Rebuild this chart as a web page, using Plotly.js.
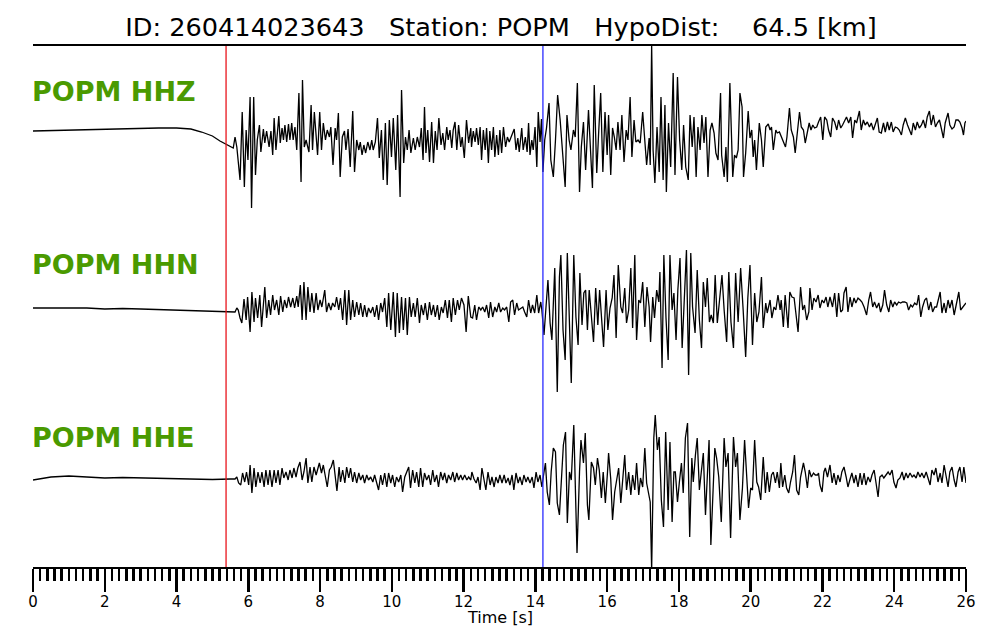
<!DOCTYPE html>
<html>
<head>
<meta charset="utf-8">
<script src="https://cdn.plot.ly/plotly-3.0.1.min.js"></script>
<style>
  html, body { margin: 0; padding: 0; background: #fff; }
  #chart { width: 1000px; height: 640px; }
</style>
</head>
<body>
<div id="chart"></div>
<script>
// ---------------- data ----------------
const stationId = "POPM";
const eventId = "260414023643";
const hypoDistKm = "64.5";
const channelNames = ["POPM HHZ", "POPM HHN", "POPM HHE"];
const pPickTime = 5.38;   // red pick [s]
const sPickTime = 14.21;  // blue pick [s]
const timeTickValues = [0, 2, 4, 6, 8, 10, 12, 14, 16, 18, 20, 22, 24, 26];
const timeTickLabels = ["0", "2", "4", "6", "8", "10", "12", "14", "16", "18", "20", "22", "24", "26"];

// HHZ trace: time [s] and amplitude (relative counts)
const hhzTime = [
  0, 0.5, 1.0, 1.5, 2.0, 2.5, 3.0, 3.5, 4.0, 4.4, 4.7, 5.0, 5.21, 5.4,
  5.58, 5.63, 5.68, 5.77, 5.83, 5.89, 5.94, 5.99, 6.05, 6.09, 6.15, 6.20, 6.25, 6.31, 6.35, 6.42, 6.46, 6.51, 6.58, 6.63, 6.68, 6.72, 6.77, 6.85, 6.89, 6.94, 6.98, 7.02, 7.07, 7.12, 7.16, 7.21, 7.25, 7.30, 7.35, 7.41, 7.47, 7.51, 7.56, 7.61, 7.69, 7.75, 7.79, 7.84, 7.93, 7.99,
  8.04, 8.09, 8.15, 8.20, 8.26, 8.30, 8.36, 8.42, 8.46, 8.51, 8.56, 8.62, 8.68, 8.72, 8.78, 8.84, 8.91, 8.96, 9.02, 9.08, 9.12, 9.17, 9.22, 9.27, 9.33, 9.39, 9.44, 9.48, 9.54, 9.60, 9.65, 9.71, 9.76, 9.82, 9.87, 9.93, 9.99,
  10.04, 10.11, 10.16, 10.23, 10.27, 10.33, 10.38, 10.43, 10.48, 10.53, 10.60, 10.65, 10.71, 10.77, 10.82, 10.87, 10.91, 10.95, 11.00, 11.05, 11.11, 11.16, 11.21, 11.26, 11.31, 11.37, 11.42, 11.47, 11.53, 11.57, 11.62, 11.67, 11.71, 11.76, 11.81, 11.86, 11.92, 11.96, 12.02, 12.08, 12.14, 12.20,
  12.22, 12.27, 12.32, 12.36, 12.41, 12.46, 12.50, 12.55, 12.60, 12.64, 12.69, 12.73, 12.78, 12.83, 12.87, 12.92, 12.97, 13.01, 13.06, 13.11, 13.17, 13.22, 13.27, 13.32, 13.41, 13.46, 13.51, 13.55, 13.62, 13.66, 13.72, 13.77, 13.81, 13.85, 13.90, 13.94, 13.99,
  14.04, 14.08, 14.13, 14.17, 14.21, 14.26, 14.31, 14.38, 14.43, 14.50, 14.56, 14.62, 14.69, 14.74, 14.83, 14.88, 14.94, 14.99, 15.06, 15.11, 15.17, 15.23, 15.28, 15.34, 15.40, 15.48, 15.52, 15.59, 15.64, 15.71, 15.76, 15.82, 15.88, 15.94,
  16.00, 16.04, 16.10, 16.15, 16.20, 16.25, 16.30, 16.36, 16.41, 16.47, 16.53, 16.58, 16.64, 16.69, 16.75, 16.80, 16.86, 16.92, 16.99, 17.05, 17.10, 17.17, 17.20, 17.24, 17.28, 17.33, 17.39, 17.45, 17.50, 17.56, 17.61, 17.65, 17.71, 17.77, 17.84, 17.89, 17.96,
  18.02, 18.08, 18.13, 18.19, 18.26, 18.31, 18.37, 18.42, 18.48, 18.53, 18.59, 18.64, 18.70, 18.75, 18.81, 18.87, 18.92, 18.98, 19.03, 19.09, 19.16,
  19.19, 19.26, 19.31, 19.35, 19.42, 19.50, 19.55, 19.60, 19.65, 19.70, 19.76, 19.80, 19.86, 19.93, 19.98, 20.03, 20.07, 20.11, 20.16, 20.24, 20.30, 20.35, 20.42, 20.49, 20.54, 20.58, 20.63, 20.70, 20.74, 20.80, 20.85, 20.91, 20.97,
  21.01, 21.08, 21.13, 21.19, 21.24, 21.30, 21.36, 21.41, 21.47, 21.52, 21.58, 21.63, 21.68, 21.73, 21.78, 21.84, 21.89, 21.95, 22.01, 22.06, 22.12, 22.17, 22.23, 22.28, 22.34, 22.40, 22.45, 22.51, 22.56, 22.62, 22.67, 22.73, 22.79, 22.84, 22.90, 22.95,
  23.03, 23.08, 23.14, 23.19, 23.25, 23.31, 23.36, 23.42, 23.47, 23.53, 23.58, 23.64, 23.70, 23.75, 23.81, 23.86, 23.92, 23.97, 24.03, 24.09, 24.14, 24.20, 24.25, 24.31, 24.37, 24.42, 24.48, 24.53, 24.59, 24.64, 24.70, 24.76, 24.81, 24.87, 24.92, 24.98,
  25.03, 25.09, 25.15, 25.20, 25.26, 25.31, 25.37, 25.42, 25.50, 25.55, 25.61, 25.67, 25.72, 25.78, 25.83, 25.89, 25.93, 25.97, 26.00
];
const hhzAmp = [
  0, 0.5, 1, 1.5, 2, 2.5, 3, 3, 3, 2, -1, -5, -10, -14,
  -17, -6, -16, -49, 19, -56, 1, -29, 34, -77, 34, -44, -9, 6, -21, 2, -12, 0, -16, 0, -24, 13, -19, 15, -12, 3, -9, 6, -11, 7, -9, 8, -9, 4, -19, 38, -51, 51, -16, -9, -21, 26, -19, 19, -24, 19,
  -19, 8, -9, 1, -6, 4, -34, 3, -9, 18, -46, -6, 0, -19, 2, -36, 20, -41, -9, -19, -11, -24, -14, -22, -11, -19, -9, -19, -11, 13, -27, 1, -49, 8, -54, 11, -26,
  13, -39, 16, -66, 41, -32, -6, -19, 1, -22, -7, -19, -6, -16, 3, -29, 24, -22, 1, -31, 9, -32, 0, -19, 13, -14, -2, -19, 4, -9, 1, -17, 1, 9, -19, 6, -16, -6, -27, 11, -12, 3,
  -16, 0, -11, 3, -14, 4, -29, 1, -19, 3, -32, 0, -19, 4, -26, -4, -24, 1, -22, 4, -16, -6, -11, -7, 2, -19, -7, -21, 3, -19, -6, -21, 8, -24, -9, -19, 4,
  -36, 19, -11, 12, -41, -9, 3, 28, -29, -46, -9, 36, 11, -12, -56, 16, -9, -19, 1, -6, 48, -61, -16, 9, -39, 21, -6, -57, 46, -42, -4, 38, -41, 19,
  -24, 16, -44, 3, -6, -19, 9, -19, 16, -31, 1, -9, 34, -26, 11, -11, -9, -12, 19, -12, -34, -7, -34, 86, -19, -52, 4, -41, 34, -49, 26, -61, 8, -36, 58, -44, 54,
  -9, -39, 6, -36, -49, 16, -16, 14, -46, 4, -19, 16, -12, 14, -46, 1, 8, -2, -22, -29, 38,
  -24, -46, -16, -51, 48, -46, -24, -27, -19, 38, 24, -46, -22, 20, -7, 1, -26, -9, -39, 8, -9, -36, 4, 7, 1, 4, -19, 1, -2, -1, -6, -12, -16,
  -6, 23, 1, -6, -22, 1, 19, 4, 1, -12, -1, 8, 1, 6, 3, 4, 9, 14, -9, 14, 11, 1, -6, 13, 9, 1, 11, 3, 6, 11, 14, 8, 14, -7, 11, 8,
  20, 1, 11, 6, 9, 4, 8, 1, 6, 13, -1, -2, 8, -1, 9, 1, 9, -1, 4, 3, 1, -4, 6, 13, 6, 1, -4, 8, 1, 9, 3, 6, 11, 3, 14, 20,
  6, 16, 4, 8, 11, 3, -7, 8, 18, 6, 2, 4, 11, 11, 9, 3, -4, 8, 10
];

// HHN trace
const hhnTime = [
  0, 0.5, 1.0, 1.5, 2.0, 2.5, 3.0, 3.5, 4.0, 4.5, 5.0, 5.4,
  5.63, 5.68, 5.72, 5.77, 5.82, 5.88, 5.94, 5.98, 6.05, 6.10, 6.16, 6.20, 6.26, 6.32, 6.37, 6.46, 6.51, 6.57, 6.62, 6.68, 6.73, 6.79, 6.85, 6.90, 6.96, 7.01, 7.07, 7.12, 7.18, 7.24, 7.29, 7.35, 7.39, 7.45, 7.50, 7.55, 7.61, 7.66, 7.72, 7.77, 7.83, 7.89, 7.94,
  8.00, 8.05, 8.13, 8.18, 8.24, 8.30, 8.35, 8.41, 8.46, 8.52, 8.57, 8.63, 8.69, 8.74, 8.80, 8.85, 8.91, 8.96, 9.02, 9.08, 9.13, 9.19, 9.24, 9.30, 9.35, 9.41, 9.47, 9.52, 9.58, 9.63, 9.69, 9.74, 9.80, 9.86, 9.91, 9.97,
  10.04, 10.10, 10.15, 10.21, 10.27, 10.32, 10.38, 10.43, 10.49, 10.54, 10.60, 10.65, 10.71, 10.77, 10.82, 10.88, 10.93, 10.99, 11.05, 11.10, 11.16, 11.21, 11.27, 11.32, 11.38, 11.43, 11.49, 11.55, 11.60, 11.66, 11.71, 11.77, 11.83, 11.88, 11.94, 12.01, 12.07, 12.13, 12.20,
  12.25, 12.31, 12.36, 12.42, 12.48, 12.53, 12.59, 12.64, 12.70, 12.75, 12.81, 12.87, 12.92, 12.98, 13.03, 13.09, 13.14, 13.20, 13.26, 13.31, 13.37, 13.42, 13.48, 13.53, 13.59, 13.65, 13.70, 13.76, 13.81, 13.87, 13.92, 13.98,
  14.04, 14.09, 14.15, 14.18, 14.24, 14.30, 14.35, 14.41, 14.46, 14.54, 14.61, 14.67, 14.71, 14.77, 14.83, 14.89, 14.95, 15.00, 15.07, 15.13, 15.19, 15.24, 15.30, 15.35, 15.40, 15.45, 15.50, 15.56, 15.62, 15.68, 15.74, 15.79, 15.85, 15.90, 15.97,
  16.02, 16.08, 16.14, 16.19, 16.25, 16.31, 16.38, 16.43, 16.49, 16.54, 16.60, 16.66, 16.71, 16.77, 16.82, 16.88, 16.93, 16.99, 17.05, 17.11, 17.17, 17.21, 17.27, 17.32, 17.38, 17.44, 17.47, 17.53, 17.58, 17.64, 17.70, 17.75, 17.81, 17.86, 17.92, 17.97,
  18.03, 18.09, 18.14, 18.21, 18.27, 18.33, 18.38, 18.45, 18.51, 18.57, 18.63, 18.68, 18.74, 18.79, 18.85, 18.90, 18.96, 19.01, 19.07,
  19.14, 19.20, 19.26, 19.33, 19.39, 19.45, 19.52, 19.58, 19.65, 19.72, 19.79, 19.86, 19.92, 19.98, 20.05, 20.11, 20.17, 20.23, 20.30, 20.35, 20.42, 20.46, 20.54, 20.59, 20.65, 20.70, 20.76, 20.82, 20.85, 20.91, 20.96,
  21.04, 21.09, 21.15, 21.21, 21.26, 21.32, 21.39, 21.45, 21.50, 21.56, 21.62, 21.65, 21.71, 21.76, 21.82, 21.88, 21.93, 21.99, 22.04, 22.10, 22.15, 22.21, 22.28, 22.34, 22.40, 22.45, 22.51, 22.56, 22.60, 22.66, 22.71, 22.77, 22.82, 22.88, 22.93, 22.99,
  23.05, 23.10, 23.16, 23.23, 23.29, 23.34, 23.40, 23.45, 23.51, 23.57, 23.62, 23.68, 23.73, 23.79, 23.85, 23.90, 23.96, 24.01, 24.07, 24.12, 24.18, 24.23, 24.29, 24.35, 24.40, 24.46, 24.51, 24.57, 24.63, 24.68, 24.74, 24.79, 24.85, 24.90, 24.96,
  25.02, 25.07, 25.13, 25.18, 25.22, 25.28, 25.33, 25.39, 25.44, 25.50, 25.55, 25.61, 25.67, 25.74, 25.80, 25.85, 25.91, 25.96, 26.00
];
const hhnAmp = [
  1, 1, 1.5, 1, 0, 0.5, 0, -0.5, -1, -1.5, -2.5, -3,
  -3, 1, -1, -9, -14, 10, -11, 12, -23, 17, -13, 11, -9, 14, -18, 22, -9, 9, -6, 14, -1, 9, -6, 13, -3, 9, 1, 12, 2, 11, 1, 13, 2, 24, -11, 27, -11, 22, -3, 16, -4, 16, -1,
  9, 2, 19, -3, 6, -1, 6, 2, 12, -1, 11, -11, 19, -16, 19, -11, 9, -8, 7, -6, 6, -8, 4, -8, 1, -4, 2, -8, 4, -11, 6, -3, 11, -18, 16, -21,
  17, -28, 16, -24, 12, -21, 11, -26, 12, -8, 6, -8, 11, -14, 4, -6, 6, -11, 7, -6, 4, -8, 4, -11, 2, -4, 9, -9, 9, -13, 11, -6, 9, -1, 11, 4, -23, 13, -8,
  -9, 4, -11, 2, -1, 2, -3, 4, -9, 7, -8, 2, -3, 6, -3, 1, -1, 2, -13, 7, 9, -6, 6, -1, 1, 2, -3, -8, 9, -4, 4, -4,
  14, -4, 7, -1, -26, 7, 29, -14, -31, 41, -83, 32, 54, -21, -51, 56, -18, -74, 54, -8, -36, 36, -16, 16, 19, -21, 19, -6, -33, 21, -16, 19, -11, -38, 19,
  -21, 1, 11, 34, -29, 44, 2, -4, 21, -14, -1, 41, -19, 54, -31, 9, 6, 27, -18, 22, 2, -33, 12, -9, 19, 7, 37, -59, 54, -9, -51, 54, -1, 16, -31, 19,
  51, -39, 2, 59, -66, 56, 2, -24, 39, -11, -39, 27, 2, 31, -13, -6, -14, 34, -14,
  12, 34, -1, -33, 37, -13, -39, 36, -13, 41, -1, -48, 11, 44, -36, 16, -13, -3, 32, -19, 6, -4, 9, -9, 2, -1, 14, -1, 9, -18, 14,
  -19, 17, 12, 11, -3, -23, 22, -1, 4, -11, -3, 21, -1, 11, 7, 14, 1, 9, 6, 12, 2, 12, 2, 16, -8, 16, -3, -1, 16, 22, -3, 12, 2, 11, 6, 11,
  9, 7, 2, -6, 9, 17, 2, 7, 1, 6, -3, 4, 19, 4, -3, 9, 2, 7, 4, 7, 6, 7, 7, 6, -1, 4, 2, 6, 4, 14, -8, 2, 9, 11, -1,
  7, -3, 2, 2, 7, 17, -4, 6, -4, 9, 1, 9, -6, 6, 17, -1, 2, 4, 6
];

// HHE trace
const hheTime = [
  0, 0.5, 1.0, 1.5, 2.0, 2.5, 3.0, 3.5, 4.0, 4.5, 5.0, 5.5, 5.63,
  5.68, 5.73, 5.79, 5.84, 5.90, 5.95, 6.01, 6.05, 6.10, 6.16, 6.21, 6.27, 6.33, 6.38, 6.44, 6.49, 6.55, 6.60, 6.66, 6.72, 6.77, 6.83, 6.88, 6.94, 6.99, 7.05, 7.11, 7.16, 7.22, 7.27, 7.33, 7.38, 7.44, 7.50, 7.55, 7.61, 7.66, 7.72, 7.77, 7.83, 7.89, 7.94, 7.98,
  8.04, 8.09, 8.15, 8.20, 8.26, 8.31, 8.37, 8.42, 8.47, 8.53, 8.57, 8.63, 8.69, 8.74, 8.80, 8.85, 8.91, 8.96, 9.02, 9.08, 9.13, 9.19, 9.24, 9.30, 9.35, 9.41, 9.47, 9.52, 9.58, 9.63, 9.69, 9.74, 9.80, 9.86, 9.91, 9.97,
  10.02, 10.08, 10.13, 10.19, 10.25, 10.30, 10.36, 10.41, 10.47, 10.52, 10.58, 10.64, 10.69, 10.75, 10.80, 10.86, 10.91, 10.97, 11.03, 11.08, 11.14, 11.19, 11.25, 11.30, 11.36, 11.42, 11.47, 11.53, 11.58, 11.64, 11.70, 11.75, 11.81, 11.86, 11.92, 11.97, 12.03, 12.09, 12.14, 12.20,
  12.23, 12.29, 12.35, 12.40, 12.46, 12.51, 12.57, 12.62, 12.68, 12.74, 12.79, 12.85, 12.90, 12.96, 13.01, 13.07, 13.13, 13.18, 13.24, 13.29, 13.35, 13.40, 13.46, 13.52, 13.57, 13.63, 13.68, 13.74, 13.79, 13.85, 13.91, 13.96,
  14.02, 14.07, 14.13, 14.18, 14.22, 14.28, 14.33, 14.39, 14.44, 14.50, 14.56, 14.61, 14.67, 14.72, 14.78, 14.84, 14.89, 14.95, 15.00, 15.07, 15.13, 15.16, 15.23, 15.27, 15.34, 15.39, 15.45, 15.49, 15.56, 15.62, 15.67, 15.73, 15.78, 15.84, 15.89, 15.95,
  16.01, 16.04, 16.10, 16.15, 16.21, 16.27, 16.32, 16.38, 16.43, 16.49, 16.54, 16.60, 16.66, 16.71, 16.77, 16.82, 16.88, 16.93, 16.99, 17.05, 17.10, 17.16, 17.20, 17.24, 17.30, 17.34, 17.40, 17.45, 17.51, 17.57, 17.63, 17.70, 17.75, 17.81, 17.86, 17.90, 17.96,
  18.01, 18.07, 18.12, 18.18, 18.24, 18.30, 18.36, 18.40, 18.46, 18.51, 18.57, 18.62, 18.68, 18.74, 18.79, 18.84, 18.89, 18.94, 19.00, 19.05, 19.11,
  19.18, 19.26, 19.31, 19.37, 19.44, 19.52, 19.58, 19.63, 19.70, 19.77, 19.83, 19.89, 19.94, 20.00, 20.05, 20.11, 20.17, 20.22, 20.28, 20.35, 20.41, 20.46, 20.52, 20.58, 20.63, 20.69, 20.74, 20.80, 20.84, 20.89, 20.95,
  21.00, 21.06, 21.11, 21.17, 21.22, 21.28, 21.34, 21.39, 21.47, 21.52, 21.58, 21.63, 21.69, 21.75, 21.80, 21.86, 21.89, 21.93, 21.99, 22.04, 22.08, 22.14, 22.21, 22.27, 22.32, 22.38, 22.43, 22.49, 22.54, 22.60, 22.66, 22.71, 22.77, 22.82, 22.88, 22.93, 22.99,
  23.05, 23.10, 23.16, 23.21, 23.27, 23.33, 23.38, 23.44, 23.49, 23.55, 23.60, 23.66, 23.71, 23.77, 23.83, 23.88, 23.94, 23.99, 24.05, 24.10, 24.16, 24.22, 24.27, 24.33, 24.38, 24.44, 24.50, 24.55, 24.61, 24.66, 24.72, 24.77, 24.83, 24.89, 24.94,
  25.00, 25.05, 25.11, 25.16, 25.22, 25.28, 25.33, 25.39, 25.44, 25.50, 25.55, 25.61, 25.67, 25.72, 25.78, 25.83, 25.89, 25.94, 26.00
];
const hheAmp = [
  -2, 1, 2, 1, 0, 0.5, 0, -0.5, -1, -1, -1.5, -1, -1,
  1, -5, -7, 5, -4, 6, -7, 13, -15, 10, -9, 6, -5, 6, -9, 8, -7, 8, -9, 8, -5, 8, -7, 10, 0, 6, -2, 8, 0, 10, 1, 10, 16, -2, 6, 20, -5, 11, -4, 11, 3, 10, 15,
  5, 13, 1, -9, 8, 11, 18, 1, -13, 11, -4, 8, -5, 11, 0, 10, -4, 6, -5, 5, -2, 3, -5, 3, -2, 1, -4, 3, -7, -12, 3, -7, 5, -9, 5, -5,
  3, -9, 1, -4, 3, -14, 1, 6, 11, -10, 8, -5, 6, -9, 10, -9, 5, -2, 3, -7, 8, -4, 3, -9, 6, -2, 5, -5, 3, -2, 6, -4, 5, -2, 3, -2, 3, -2, 1, -2,
  6, -1, -5, 1, -12, 10, -2, -12, 6, -7, 1, -9, 1, -5, 3, -5, 3, -5, 0, -7, 3, -12, 5, -5, 1, -7, 3, -4, 1, -5, 1, -10,
  6, -4, 3, -9, 1, 15, -14, -27, 6, 30, 26, -25, -37, -7, 33, 46, -45, 6, -2, 53, -34, -75, 6, 38, 15, 45, -27, -42, 16, 10, -7, 20, 8, -20, 6, -25,
  6, 25, -1, -42, -14, 1, 10, -25, -4, 23, -12, 6, -17, 3, -12, 15, -17, 0, -9, 30, -5, -17, -24, -92, 40, 63, 28, 41, -22, -49, 46, -32, 36, -44, 6, 6, -24,
  -5, 15, -15, 40, 55, -59, 20, -4, 23, 40, -12, 6, 25, -37, 1, 38, -67, -14, 30, 20, 1,
  -44, 40, 11, 25, -60, 41, 11, 25, -42, -10, 38, 3, -30, -10, -12, 38, -4, -9, -22, 21, -15, 6, -14, 3, 6, -5, 6, -10, 15, -9, 3,
  -10, -15, -4, 6, 23, -12, -17, 1, 15, 6, -10, 8, 1, 5, 3, 3, 5, -7, -14, 6, 10, 1, 13, -5, 5, -7, 3, -4, 6, 11, 1, -9, -1, 5, -5, 3, -9,
  5, -7, 5, -7, 1, -4, 3, 8, -5, -19, 1, 3, 0, 3, 6, 3, 8, -4, -10, -2, 0, 6, -2, 5, 0, 5, 1, 3, 0, 6, 1, 5, 0, 6, 0,
  -7, 8, 3, 10, -4, 5, -5, 13, 1, -9, 6, 11, -2, -9, 6, 11, -4, 11, -5
];

// ---------------- figure ----------------
const FONT = "DejaVu Sans, Verdana, sans-serif";
const nb = "\u00a0";
const titleText = "ID: " + eventId + nb + nb + nb + "Station: " + stationId + nb + nb + nb +
                  "HypoDist:" + nb + nb + nb + nb + hypoDistKm + " [km]";

function traceOf(t, a, yaxis) {
  return { x: t, y: a, type: "scatter", mode: "lines", xaxis: "x", yaxis: yaxis,
           line: { color: "#000000", width: 1.3 }, hoverinfo: "skip", showlegend: false };
}

const data = [
  traceOf(hhzTime, hhzAmp, "y"),
  traceOf(hhnTime, hhnAmp, "y2"),
  traceOf(hheTime, hheAmp, "y3")
];

const labelColor = "#4a9a00";
const labelY = [0.912, 0.580, 0.248];

const annotations = channelNames.map((name, i) => ({
  text: "<b>" + name + "</b>", xref: "paper", yref: "paper", x: 0, y: labelY[i],
  xanchor: "left", yanchor: "middle", showarrow: false, xshift: -3,
  font: { family: FONT, size: 27, color: labelColor }
}));
annotations.push({
  text: "Time [s]", xref: "paper", yref: "paper", x: 0.5, y: -50 / 521,
  xanchor: "center", yanchor: "middle", showarrow: false,
  font: { family: FONT, size: 16, color: "#000000" }
});

const layout = {
  width: 1000, height: 640,
  margin: { l: 33, r: 34, t: 46, b: 73, pad: 0 },
  paper_bgcolor: "#ffffff", plot_bgcolor: "#ffffff",
  font: { family: FONT, color: "#000000" },
  showlegend: false,
  title: { text: titleText, font: { family: FONT, size: 25.6, color: "#000000" },
           x: 0.501, xref: "container", xanchor: "center",
           y: 1 - 27 / 640, yref: "container", yanchor: "middle" },
  xaxis: {
    range: [0, 26], tickmode: "array", tickvals: timeTickValues, ticktext: timeTickLabels,
    ticks: "outside", ticklen: 23, tickwidth: 2.5, tickcolor: "#000000",
    ticklabelstandoff: -3,
    showline: true, linecolor: "#000000", linewidth: 2, mirror: true,
    showgrid: false, zeroline: false,
    tickfont: { family: FONT, size: 15, color: "#000000" },
    minor: { dtick: 0.2, tick0: 0, ticks: "outside", ticklen: 12, tickwidth: 2.5, tickcolor: "#000000", showgrid: false }
  },
  yaxis:  { domain: [0, 1], range: [-436, 85], visible: false, fixedrange: true },
  yaxis2: { overlaying: "y", range: [-258, 263], visible: false, fixedrange: true },
  yaxis3: { overlaying: "y", range: [-89, 432], visible: false, fixedrange: true },
  shapes: [
    { type: "line", xref: "x", yref: "paper", x0: pPickTime, x1: pPickTime, y0: 0, y1: 1,
      line: { color: "#e8141c", width: 1.3 }, layer: "above" },
    { type: "line", xref: "x", yref: "paper", x0: sPickTime, x1: sPickTime, y0: 0, y1: 1,
      line: { color: "#2a2aff", width: 1.3 }, layer: "above" }
  ],
  annotations: annotations
};

Plotly.newPlot("chart", data, layout, { staticPlot: true, displayModeBar: false });
</script>
</body>
</html>
